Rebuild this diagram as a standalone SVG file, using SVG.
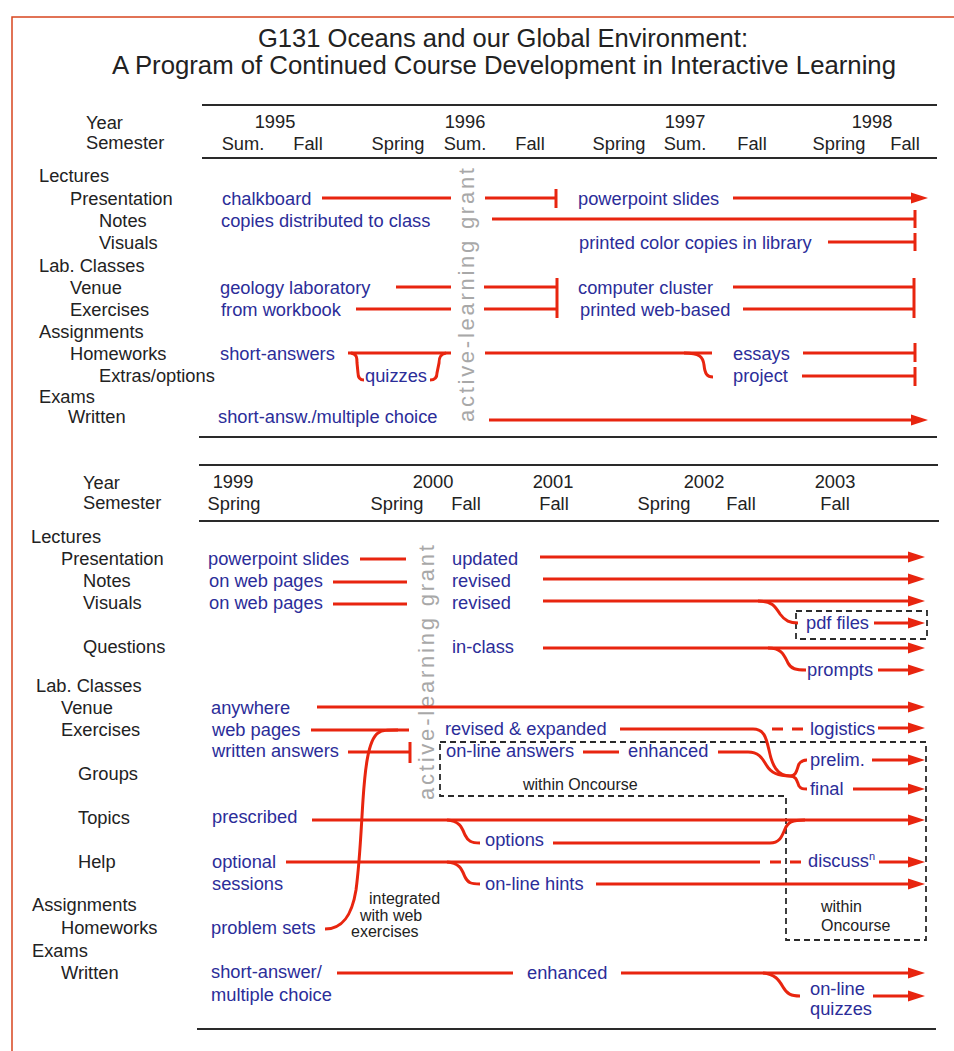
<svg xmlns="http://www.w3.org/2000/svg" width="954" height="1051" viewBox="0 0 954 1051">
<style>
text{font-family:"Liberation Sans",Arial,sans-serif;font-size:18.3px;fill:#222}
.b{fill:#2b2d99}
.s{font-size:16px}
.m{text-anchor:middle}
.t{font-size:26px}
.g{font-size:22px;fill:#a8a8a8}
.r{stroke:#e8250f;stroke-width:3;fill:none}
.a{marker-end:url(#ah)}
.rd{stroke-dasharray:11 9}
.rule{stroke:#2a2a2a;stroke-width:2}
.dash{stroke:#2a2a2a;stroke-width:1.8;stroke-dasharray:6 4;fill:none}
</style>
<defs>
<marker id="ah" markerUnits="userSpaceOnUse" markerWidth="18" markerHeight="12" refX="7" refY="6" orient="auto"><path d="M0,0.5 L17,6 L0,11.5 z" fill="#e8250f"/></marker>
</defs>
<rect width="954" height="1051" fill="#fff"/>
<path d="M12,1051 L12,17 L954,17" stroke="#d8461f" stroke-width="1.5" fill="none"/>
<g id="title">
<text x="503" y="47" class="m t" textLength="490" lengthAdjust="spacingAndGlyphs">G131 Oceans and our Global Environment:</text>
<text x="504" y="74" class="m t" textLength="784" lengthAdjust="spacingAndGlyphs">A Program of Continued Course Development in Interactive Learning</text>
</g>
<g id="rules">
<line class="rule" x1="202" y1="105" x2="937" y2="105"/>
<line class="rule" x1="202" y1="158" x2="937" y2="158"/>
<line class="rule" x1="199" y1="437" x2="937" y2="437"/>
<line class="rule" x1="199" y1="465" x2="938" y2="465"/>
<line class="rule" x1="199" y1="521" x2="939" y2="521"/>
<line class="rule" x1="197" y1="1029" x2="936" y2="1029"/>
</g>
<g id="header1">
<text x="86" y="129">Year</text><text x="86" y="149">Semester</text>
<text x="275" y="128" class="m">1995</text><text x="465" y="128" class="m">1996</text><text x="685" y="128" class="m">1997</text><text x="872" y="128" class="m">1998</text>
<text x="243" y="150" class="m">Sum.</text><text x="308" y="150" class="m">Fall</text><text x="398" y="150" class="m">Spring</text><text x="465" y="150" class="m">Sum.</text><text x="530" y="150" class="m">Fall</text><text x="619" y="150" class="m">Spring</text><text x="685" y="150" class="m">Sum.</text><text x="752" y="150" class="m">Fall</text><text x="839" y="150" class="m">Spring</text><text x="905" y="150" class="m">Fall</text>
</g>
<g id="rows1">
<text x="39" y="182">Lectures</text><text x="70" y="205">Presentation</text><text x="99" y="227">Notes</text><text x="99" y="249">Visuals</text>
<text x="39" y="272">Lab. Classes</text><text x="70" y="294">Venue</text><text x="70" y="316">Exercises</text>
<text x="39" y="338">Assignments</text><text x="70" y="360">Homeworks</text><text x="99" y="382">Extras/options</text>
<text x="39" y="403">Exams</text><text x="68" y="423">Written</text>
</g>
<g id="grant1"><text class="g" transform="translate(474,422) rotate(-90)" textLength="254">active-learning grant</text></g>
<g id="n-chalkboard"><text class="b" x="222" y="205">chalkboard</text></g>
<g id="n-copies"><text class="b" x="221" y="227">copies distributed to class</text></g>
<g id="n-geology"><text class="b" x="220" y="294">geology laboratory</text></g>
<g id="n-workbook"><text class="b" x="221" y="316">from workbook</text></g>
<g id="n-shortanswers"><text class="b" x="220" y="360">short-answers</text></g>
<g id="n-quizzes1"><text class="b" x="365" y="382">quizzes</text></g>
<g id="n-shortansw"><text class="b" x="218" y="423">short-answ./multiple choice</text></g>
<g id="n-ppt1"><text class="b" x="578" y="205">powerpoint slides</text></g>
<g id="n-printed"><text class="b" x="579" y="249">printed color copies in library</text></g>
<g id="n-cluster"><text class="b" x="578" y="294">computer cluster</text></g>
<g id="n-webbased"><text class="b" x="580" y="316">printed web-based</text></g>
<g id="n-essays"><text class="b" x="733" y="360">essays</text></g>
<g id="n-project"><text class="b" x="733" y="382">project</text></g>
<g id="header2">
<text x="83" y="489">Year</text><text x="83" y="509">Semester</text>
<text x="233" y="488" class="m">1999</text><text x="433" y="488" class="m">2000</text><text x="553" y="488" class="m">2001</text><text x="704" y="488" class="m">2002</text><text x="835" y="488" class="m">2003</text>
<text x="234" y="510" class="m">Spring</text><text x="397" y="510" class="m">Spring</text><text x="466" y="510" class="m">Fall</text><text x="554" y="510" class="m">Fall</text><text x="664" y="510" class="m">Spring</text><text x="741" y="510" class="m">Fall</text><text x="835" y="510" class="m">Fall</text>
</g>
<g id="rows2">
<text x="31" y="543">Lectures</text><text x="61" y="565">Presentation</text><text x="83" y="587">Notes</text><text x="83" y="609">Visuals</text><text x="83" y="653">Questions</text>
<text x="36" y="692">Lab. Classes</text><text x="61" y="714">Venue</text><text x="61" y="736">Exercises</text><text x="78" y="780">Groups</text><text x="78" y="824">Topics</text><text x="78" y="868">Help</text>
<text x="32" y="911">Assignments</text><text x="61" y="934">Homeworks</text><text x="32" y="957">Exams</text><text x="61" y="979">Written</text>
</g>
<g id="grant2"><text class="g" transform="translate(434,800) rotate(-90)" textLength="255">active-learning grant</text></g>
<g id="n-ppt2"><text class="b" x="208" y="565">powerpoint slides</text></g>
<g id="n-webnotes"><text class="b" x="209" y="587">on web pages</text></g>
<g id="n-webvisuals"><text class="b" x="209" y="609">on web pages</text></g>
<g id="n-anywhere"><text class="b" x="211" y="714">anywhere</text></g>
<g id="n-webpages"><text class="b" x="212" y="736">web pages</text></g>
<g id="n-written"><text class="b" x="212" y="757">written answers</text></g>
<g id="n-prescribed"><text class="b" x="212" y="823">prescribed</text></g>
<g id="n-optional"><text class="b" x="212" y="868">optional</text><text class="b" x="212" y="890">sessions</text></g>
<g id="n-problemsets"><text class="b" x="211" y="934">problem sets</text></g>
<g id="n-shortanswer"><text class="b" x="211" y="978">short-answer/</text><text class="b" x="211" y="1001">multiple choice</text></g>
<g id="n-updated"><text class="b" x="452" y="565">updated</text></g>
<g id="n-revised1"><text class="b" x="452" y="587">revised</text></g>
<g id="n-revised2"><text class="b" x="452" y="609">revised</text></g>
<g id="n-inclass"><text class="b" x="452" y="653">in-class</text></g>
<g id="n-revexp"><text class="b" x="445" y="735">revised &amp; expanded</text></g>
<g id="n-onlineanswers"><text class="b" x="446" y="757">on-line answers</text></g>
<g id="n-enhanced1"><text class="b" x="628" y="757">enhanced</text></g>
<g id="n-within1"><text class="s" x="523" y="790">within Oncourse</text></g>
<g id="n-logistics"><text class="b" x="810" y="735">logistics</text></g>
<g id="n-prelim"><text class="b" x="810" y="766">prelim.</text></g>
<g id="n-final"><text class="b" x="810" y="795">final</text></g>
<g id="n-options"><text class="b" x="485" y="846">options</text></g>
<g id="n-hints"><text class="b" x="485" y="890">on-line hints</text></g>
<g id="n-discuss"><text class="b" x="808" y="867">discuss<tspan style="font-size:11px" dy="-7">n</tspan></text></g>
<g id="n-within2"><text class="s" x="821" y="912">within</text><text class="s" x="821" y="931">Oncourse</text></g>
<g id="n-integrated"><text class="s" x="369" y="904">integrated</text><text class="s" x="360" y="921">with web</text><text class="s" x="351" y="937">exercises</text></g>
<g id="n-enhanced2"><text class="b" x="527" y="979">enhanced</text></g>
<g id="n-onlinequizzes"><text class="b" x="810" y="995">on-line</text><text class="b" x="810" y="1015">quizzes</text></g>
<g id="n-pdf"><text class="b" x="806" y="629">pdf files</text></g>
<g id="n-prompts"><text class="b" x="807" y="676">prompts</text></g>
<g id="boxes">
<rect class="dash" x="796" y="611" width="131" height="28"/>
<path class="dash" d="M440,742 L926,742 L926,940 L786,940 L786,796 L440,796 Z"/>
</g>
<g id="connectors">
<line class="r" x1="322" y1="198" x2="451" y2="198"/>
<line class="r" x1="485" y1="198" x2="556" y2="198"/>
<line class="r" x1="556" y1="189" x2="556" y2="208"/>
<line class="r a" x1="733" y1="198" x2="918" y2="198"/>
<line class="r" x1="492" y1="219" x2="915" y2="219"/>
<line class="r" x1="915" y1="210" x2="915" y2="228"/>
<line class="r" x1="828" y1="242" x2="915" y2="242"/>
<line class="r" x1="915" y1="233" x2="915" y2="251"/>
<line class="r" x1="396" y1="287" x2="451" y2="287"/>
<line class="r" x1="484" y1="287" x2="557" y2="287"/>
<line class="r" x1="733" y1="287" x2="914" y2="287"/>
<line class="r" x1="356" y1="309" x2="451" y2="309"/>
<line class="r" x1="484" y1="309" x2="557" y2="309"/>
<line class="r" x1="743" y1="309" x2="914" y2="309"/>
<line class="r" x1="557" y1="278" x2="557" y2="318"/>
<line class="r" x1="914" y1="278" x2="914" y2="318"/>
<line class="r" x1="348" y1="353" x2="451" y2="353"/>
<path class="r" d="M351,353 C357,354 357,358 357,363 L358,373 C358,378 360,380 364,380"/>
<path class="r" d="M446,353 C440,354 439,358 439,363 L437,373 C437,378 434,380 430,380"/>
<line class="r" x1="485" y1="353" x2="712" y2="353"/>
<path class="r" d="M684,353 C700,353 703,357 704,365 C705,374 707,377 713,377"/>
<line class="r" x1="803" y1="353" x2="915" y2="353"/>
<line class="r" x1="915" y1="343" x2="915" y2="362"/>
<line class="r" x1="802" y1="376" x2="915" y2="376"/>
<line class="r" x1="915" y1="367" x2="915" y2="386"/>
<line class="r a" x1="489" y1="420" x2="918" y2="420"/>

<line class="r" x1="360" y1="559" x2="406" y2="559"/>
<line class="r a" x1="540" y1="557" x2="915" y2="557"/>
<line class="r" x1="333" y1="582" x2="407" y2="582"/>
<line class="r a" x1="543" y1="579" x2="915" y2="579"/>
<line class="r" x1="333" y1="604" x2="407" y2="604"/>
<line class="r a" x1="543" y1="601" x2="915" y2="601"/>
<path class="r" d="M758,601 C772,601 775,606 780,614 C785,621 790,623 798,623"/>
<line class="r a" x1="874" y1="623" x2="915" y2="623"/>
<line class="r a" x1="543" y1="648" x2="915" y2="648"/>
<path class="r" d="M768,648 C782,648 784,655 788,663 C791,669 796,670 806,670"/>
<line class="r a" x1="878" y1="670" x2="915" y2="670"/>
<line class="r a" x1="317" y1="707" x2="915" y2="707"/>
<line class="r" x1="311" y1="730" x2="409" y2="730"/>
<path class="r" d="M325,929 C343,929 352,915 356,890 C360,860 361,830 363,800 C365,770 368,740 378,733 C382,730 388,730 398,730"/>
<path class="r" d="M620,729 L753,729 C764,729 766,737 769,750 C772,765 777,776 790,776"/>
<line class="r rd" x1="772" y1="729" x2="803" y2="729"/>
<line class="r a" x1="878" y1="728" x2="915" y2="728"/>
<line class="r" x1="348" y1="752" x2="410" y2="752"/>
<line class="r" x1="410" y1="742" x2="410" y2="763"/>
<line class="r" x1="583" y1="752" x2="619" y2="752"/>
<path class="r" d="M718,752 L748,752 C760,752 763,760 767,766 C771,773 778,776 790,776"/>
<path class="r" d="M790,776 C797,776 797,768 799,764 C801,761 803,760 807,760"/>
<path class="r" d="M790,776 C797,776 797,782 799,786 C801,789 803,789 807,789"/>
<line class="r a" x1="872" y1="760" x2="915" y2="760"/>
<line class="r a" x1="853" y1="789" x2="915" y2="789"/>
<line class="r a" x1="312" y1="820" x2="915" y2="820"/>
<path class="r" d="M447,820 C460,821 462,828 465,835 C468,841 471,843 480,843"/>
<path class="r" d="M553,843 L770,843 C780,843 782,836 785,829 C788,822 792,820 805,820"/>
<line class="r" x1="286" y1="862" x2="760" y2="862"/>
<line class="r rd" x1="770" y1="862" x2="803" y2="862"/>
<line class="r a" x1="879" y1="862" x2="915" y2="862"/>
<path class="r" d="M447,862 C460,863 462,870 465,877 C468,883 471,884 480,884"/>
<line class="r a" x1="596" y1="884" x2="915" y2="884"/>
<line class="r" x1="337" y1="973" x2="513" y2="973"/>
<line class="r a" x1="621" y1="973" x2="915" y2="973"/>
<path class="r" d="M763,973 C775,974 779,980 783,987 C787,994 791,996 800,996"/>
<line class="r a" x1="873" y1="996" x2="915" y2="996"/>
</g>
</svg>
